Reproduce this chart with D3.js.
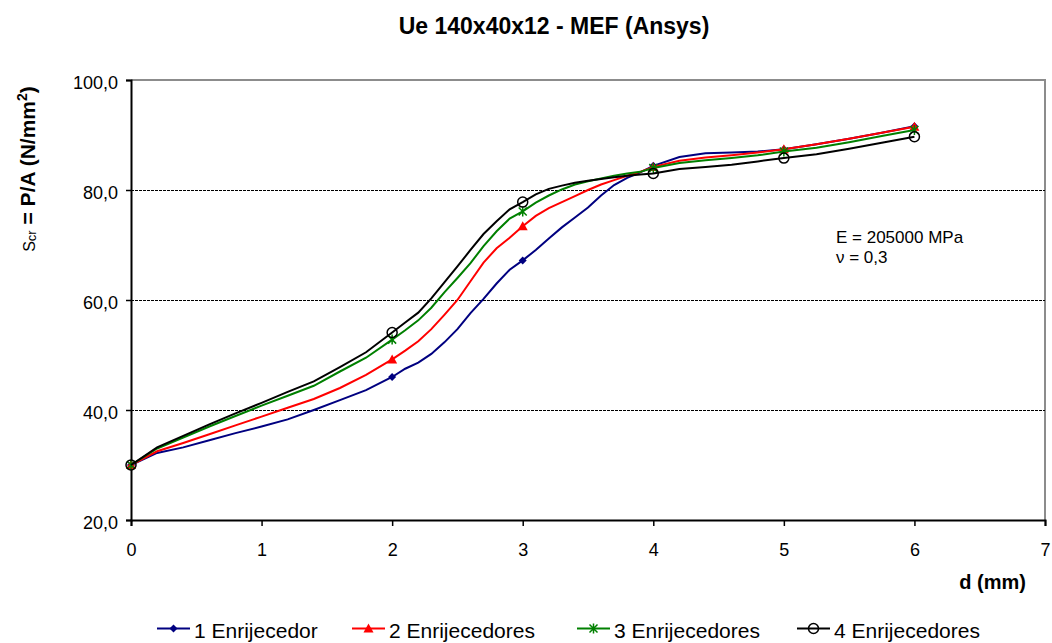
<!DOCTYPE html>
<html>
<head>
<meta charset="utf-8">
<script src="https://cdn.jsdelivr.net/npm/d3@7"></script>
<style>
  body { margin: 0; background: #fff; }
  svg { font-family: "Liberation Sans", Arial, sans-serif; }
</style>
</head>
<body>
<svg id="chart" width="1052" height="643"></svg>
<script>
const width = 1052, height = 643;
const margin = { top: 80, right: 7, bottom: 123, left: 131 };

// displacement d (mm)
const dValues = [0, 0.2, 0.4, 0.6, 0.8, 1.0, 1.2, 1.4, 1.6, 1.8, 2.0, 2.1, 2.2, 2.3, 2.4, 2.5, 2.6, 2.7, 2.8, 2.9,
  3.0, 3.1, 3.2, 3.3, 3.4, 3.5, 3.6, 3.7, 3.8, 3.9, 4.0, 4.2, 4.4, 4.6, 4.8, 5.0, 5.25, 5.5, 5.75, 6.0];

// stress values (N/mm2) for each series
const enr1 = [30, 32.2, 33.2, 34.5, 35.8, 37.0, 38.3, 40.0, 41.8, 43.6, 46.0, 47.5, 48.6, 50.2, 52.3, 54.7, 57.6, 60.2, 63.0, 65.5,
  67.2, 69.1, 71.2, 73.2, 75.0, 76.8, 79.0, 80.9, 82.2, 83.2, 84.4, 86.0, 86.7, 86.8, 87.0, 87.4, 88.3, 89.3, 90.4, 91.6];
const enr2 = [30, 32.5, 34.0, 35.6, 37.2, 38.8, 40.4, 42.0, 44.0, 46.4, 49.2, 50.8, 52.5, 54.7, 57.3, 60.0, 63.4, 66.8, 69.4, 71.3,
  73.4, 75.3, 76.7, 77.8, 78.9, 80.0, 81.0, 81.8, 82.6, 83.3, 84.2, 85.3, 85.9, 86.3, 86.8, 87.4, 88.3, 89.3, 90.4, 91.5];
const enr3 = [30, 33.0, 35.0, 37.0, 38.9, 40.8, 42.6, 44.4, 47.0, 49.5, 52.8, 54.5, 56.3, 58.6, 61.4, 64.0, 66.7, 69.8, 72.5, 74.8,
  76.1, 77.7, 79.0, 80.1, 81.0, 81.6, 82.1, 82.6, 83.0, 83.3, 84.0, 84.9, 85.4, 85.8, 86.3, 87.0, 87.7, 88.7, 89.8, 90.9];
const enr4 = [30, 33.2, 35.3, 37.4, 39.4, 41.3, 43.3, 45.2, 47.8, 50.5, 54.1, 55.9, 57.7, 60.3, 63.2, 66.1, 69.1, 72.0, 74.3, 76.5,
  77.8, 79.2, 80.2, 80.8, 81.3, 81.7, 82.0, 82.3, 82.6, 82.8, 83.0, 83.8, 84.2, 84.6, 85.2, 85.8, 86.5, 87.5, 88.6, 89.7];

// points that carry a marker
const markedD = [0, 2, 3, 4, 5, 6];

const seriesNames = ["1 Enrijecedor", "2 Enrijecedores", "3 Enrijecedores", "4 Enrijecedores"];
const seriesColors = ["#000080", "#ff0000", "#008000", "#000000"];
const seriesMarkers = ["diamond", "triangle", "asterisk", "circle"];
const seriesValues = [enr1, enr2, enr3, enr4];

const xTicks = [0, 1, 2, 3, 4, 5, 6, 7];
const yTicks = [20, 40, 60, 80, 100];

const svg = d3.select("#chart");

const x = d3.scaleLinear().domain([0, 7]).range([margin.left, width - margin.right]);
const y = d3.scaleLinear().domain([20, 100]).range([height - margin.bottom, margin.top]);
const fmt = v => d3.format(".1f")(v).replace(".", ",");

// title
svg.append("text").attr("x", 554).attr("y", 34).attr("text-anchor", "middle")
  .attr("font-size", 23).attr("font-weight", "bold").text("Ue 140x40x12 - MEF (Ansys)");

// plot frame (top and right, grey)
svg.append("path")
  .attr("d", `M${x(0)},${y(100)}H${x(7)}V${y(20)}`)
  .attr("stroke", "#8c8c8c").attr("stroke-width", 2).attr("fill", "none");

// gridlines
svg.append("g").selectAll("line").data(yTicks.filter(t => t > 20 && t < 100)).join("line")
  .attr("x1", x(0)).attr("x2", x(7))
  .attr("y1", d => y(d) + 0.5).attr("y2", d => y(d) + 0.5)
  .attr("stroke", "#000").attr("stroke-width", 1.2).attr("stroke-dasharray", "3,1");

// axes
const xAxis = svg.append("g").attr("transform", `translate(0,${y(20)})`)
  .call(d3.axisBottom(x).tickValues(xTicks).tickSize(6).tickPadding(17).tickFormat(d3.format("d")));
const yAxis = svg.append("g").attr("transform", `translate(${x(0)},0)`)
  .call(d3.axisLeft(y).tickValues(yTicks).tickSize(5).tickPadding(8).tickFormat(fmt));
[xAxis, yAxis].forEach(a => {
  a.select(".domain").attr("stroke-width", 2);
  a.selectAll(".tick line").attr("stroke-width", 1.5);
  a.selectAll("text").attr("font-size", 18).attr("font-family", "Liberation Sans, Arial, sans-serif").attr("fill", "#000");
});
yAxis.selectAll("text").attr("dy", "0.45em");

// axis titles
svg.append("text").attr("x", 1026).attr("y", 589).attr("text-anchor", "end")
  .attr("font-size", 20).attr("font-weight", "bold").text("d (mm)");

const yl = svg.append("text").attr("transform", "translate(35,169) rotate(-90)")
  .attr("text-anchor", "middle").attr("font-size", 21).attr("font-weight", "bold");
yl.append("tspan").attr("font-weight", "normal").attr("font-size", 16).text("S");
yl.append("tspan").attr("font-weight", "normal").attr("font-size", 13).attr("dy", 1).text("cr");
yl.append("tspan").attr("dy", -1).text(" = P/A (N/mm");
yl.append("tspan").attr("font-size", 14).attr("dy", -8).text("2");
yl.append("tspan").attr("dy", 8).text(")");

// annotation
svg.append("text").attr("x", 836).attr("y", 243).attr("font-size", 17).text("E = 205000 MPa");
svg.append("text").attr("x", 836).attr("y", 263).attr("font-size", 17).text("\u03bd = 0,3");

// markers
function drawMarker(g, type, color, cx, cy) {
  if (type === "diamond") {
    g.append("path").attr("d", `M${cx},${cy - 4}L${cx + 4},${cy}L${cx},${cy + 4}L${cx - 4},${cy}Z`).attr("fill", color);
  } else if (type === "triangle") {
    g.append("path").attr("d", `M${cx},${cy - 5}L${cx + 5},${cy + 4}L${cx - 5},${cy + 4}Z`).attr("fill", color);
  } else if (type === "asterisk") {
    g.append("path").attr("d", `M${cx - 4},${cy - 4}L${cx + 4},${cy + 4}M${cx + 4},${cy - 4}L${cx - 4},${cy + 4}M${cx},${cy - 5}L${cx},${cy + 5}`)
      .attr("stroke", color).attr("stroke-width", 1.5).attr("fill", "none");
  } else {
    g.append("circle").attr("cx", cx).attr("cy", cy).attr("r", 5).attr("fill", "none")
      .attr("stroke", color).attr("stroke-width", 1.5);
  }
}

const line = d3.line().x(d => x(d.d)).y(d => y(d.v));

seriesValues.forEach((vals, i) => {
  const pts = dValues.map((d, k) => ({ d: d, v: vals[k] }));
  const g = svg.append("g");
  g.append("path").datum(pts).attr("d", line).attr("fill", "none")
    .attr("stroke", seriesColors[i]).attr("stroke-width", 2);
  pts.filter(p => markedD.includes(p.d)).forEach(p => drawMarker(g, seriesMarkers[i], seriesColors[i], x(p.d), y(p.v)));
});

// legend
const legendX = [157, 352, 577, 797];
const legendY = 628.5;
seriesNames.forEach((name, i) => {
  const g = svg.append("g");
  g.append("line").attr("x1", legendX[i]).attr("x2", legendX[i] + 33).attr("y1", legendY).attr("y2", legendY)
    .attr("stroke", seriesColors[i]).attr("stroke-width", 2);
  drawMarker(g, seriesMarkers[i], seriesColors[i], legendX[i] + 16.5, legendY);
  g.append("text").attr("x", legendX[i] + 37).attr("y", 638).attr("font-size", 21).text(name);
});
</script>
</body>
</html>
